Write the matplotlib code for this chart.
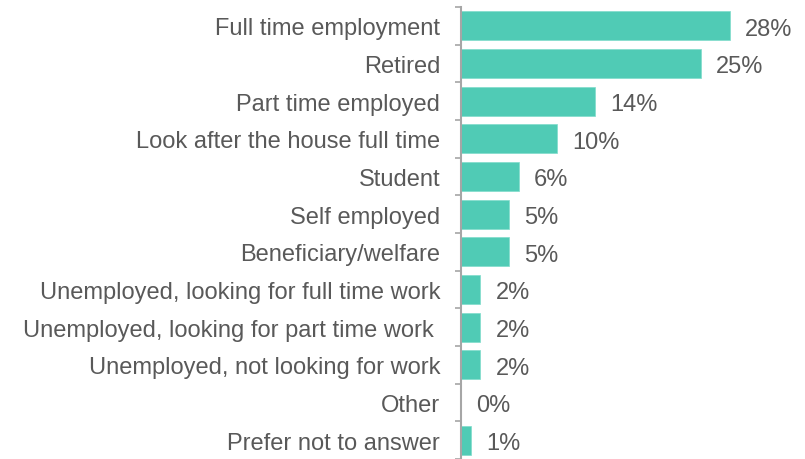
import matplotlib.pyplot as plt
import numpy as np

plt.rcParams['font.family'] = ['Liberation Sans', 'DejaVu Sans']

# Employment status shares (%)
categories = ['Full time employment', 'Retired', 'Part time employed',
              'Look after the house full time', 'Student', 'Self employed',
              'Beneficiary/welfare', 'Unemployed, looking for full time work',
              'Unemployed, looking for part time work ',
              'Unemployed, not looking for work', 'Other', 'Prefer not to answer']
values = [28, 25, 14, 10, 6, 5, 5, 2, 2, 2, 0, 1]

bar_color = '#50CBB5'
text_color = '#595959'
axis_color = '#A6A6A6'

fig = plt.figure(figsize=(8.05, 4.6), dpi=100)
ax = fig.add_axes([461/805, 0.0, 1 - 461/805, 1 - 8/460])

y = np.arange(len(categories))
ax.barh(y, values, height=0.77, color=bar_color, edgecolor='#7FDCCB', linewidth=0.5)

for yi, v in zip(y, values):
    ax.annotate('%d%%' % v, (v, yi), xytext=(11, -2), textcoords='offset points',
                va='center', ha='left', fontsize=17, color=text_color)

ax.set_xlim(0, 35.83)
ax.set_ylim(len(categories) - 0.5, -0.5)

# labels on the centers, little tick marks between the categories
ax.set_yticks(y)
ax.set_yticklabels(categories, fontsize=17, color=text_color, va='center_baseline')
ax.tick_params(axis='y', which='major', length=0, pad=15)
ax.set_yticks(np.arange(-0.5, len(categories)), minor=True)
ax.tick_params(axis='y', which='minor', length=4, width=1.2, color=axis_color)

ax.set_xticks([])
for s in ['top', 'right', 'bottom']:
    ax.spines[s].set_visible(False)
ax.spines['left'].set_color(axis_color)
ax.spines['left'].set_linewidth(1.5)
ax.patch.set_alpha(0)

fig.savefig('out.png', dpi=100)
